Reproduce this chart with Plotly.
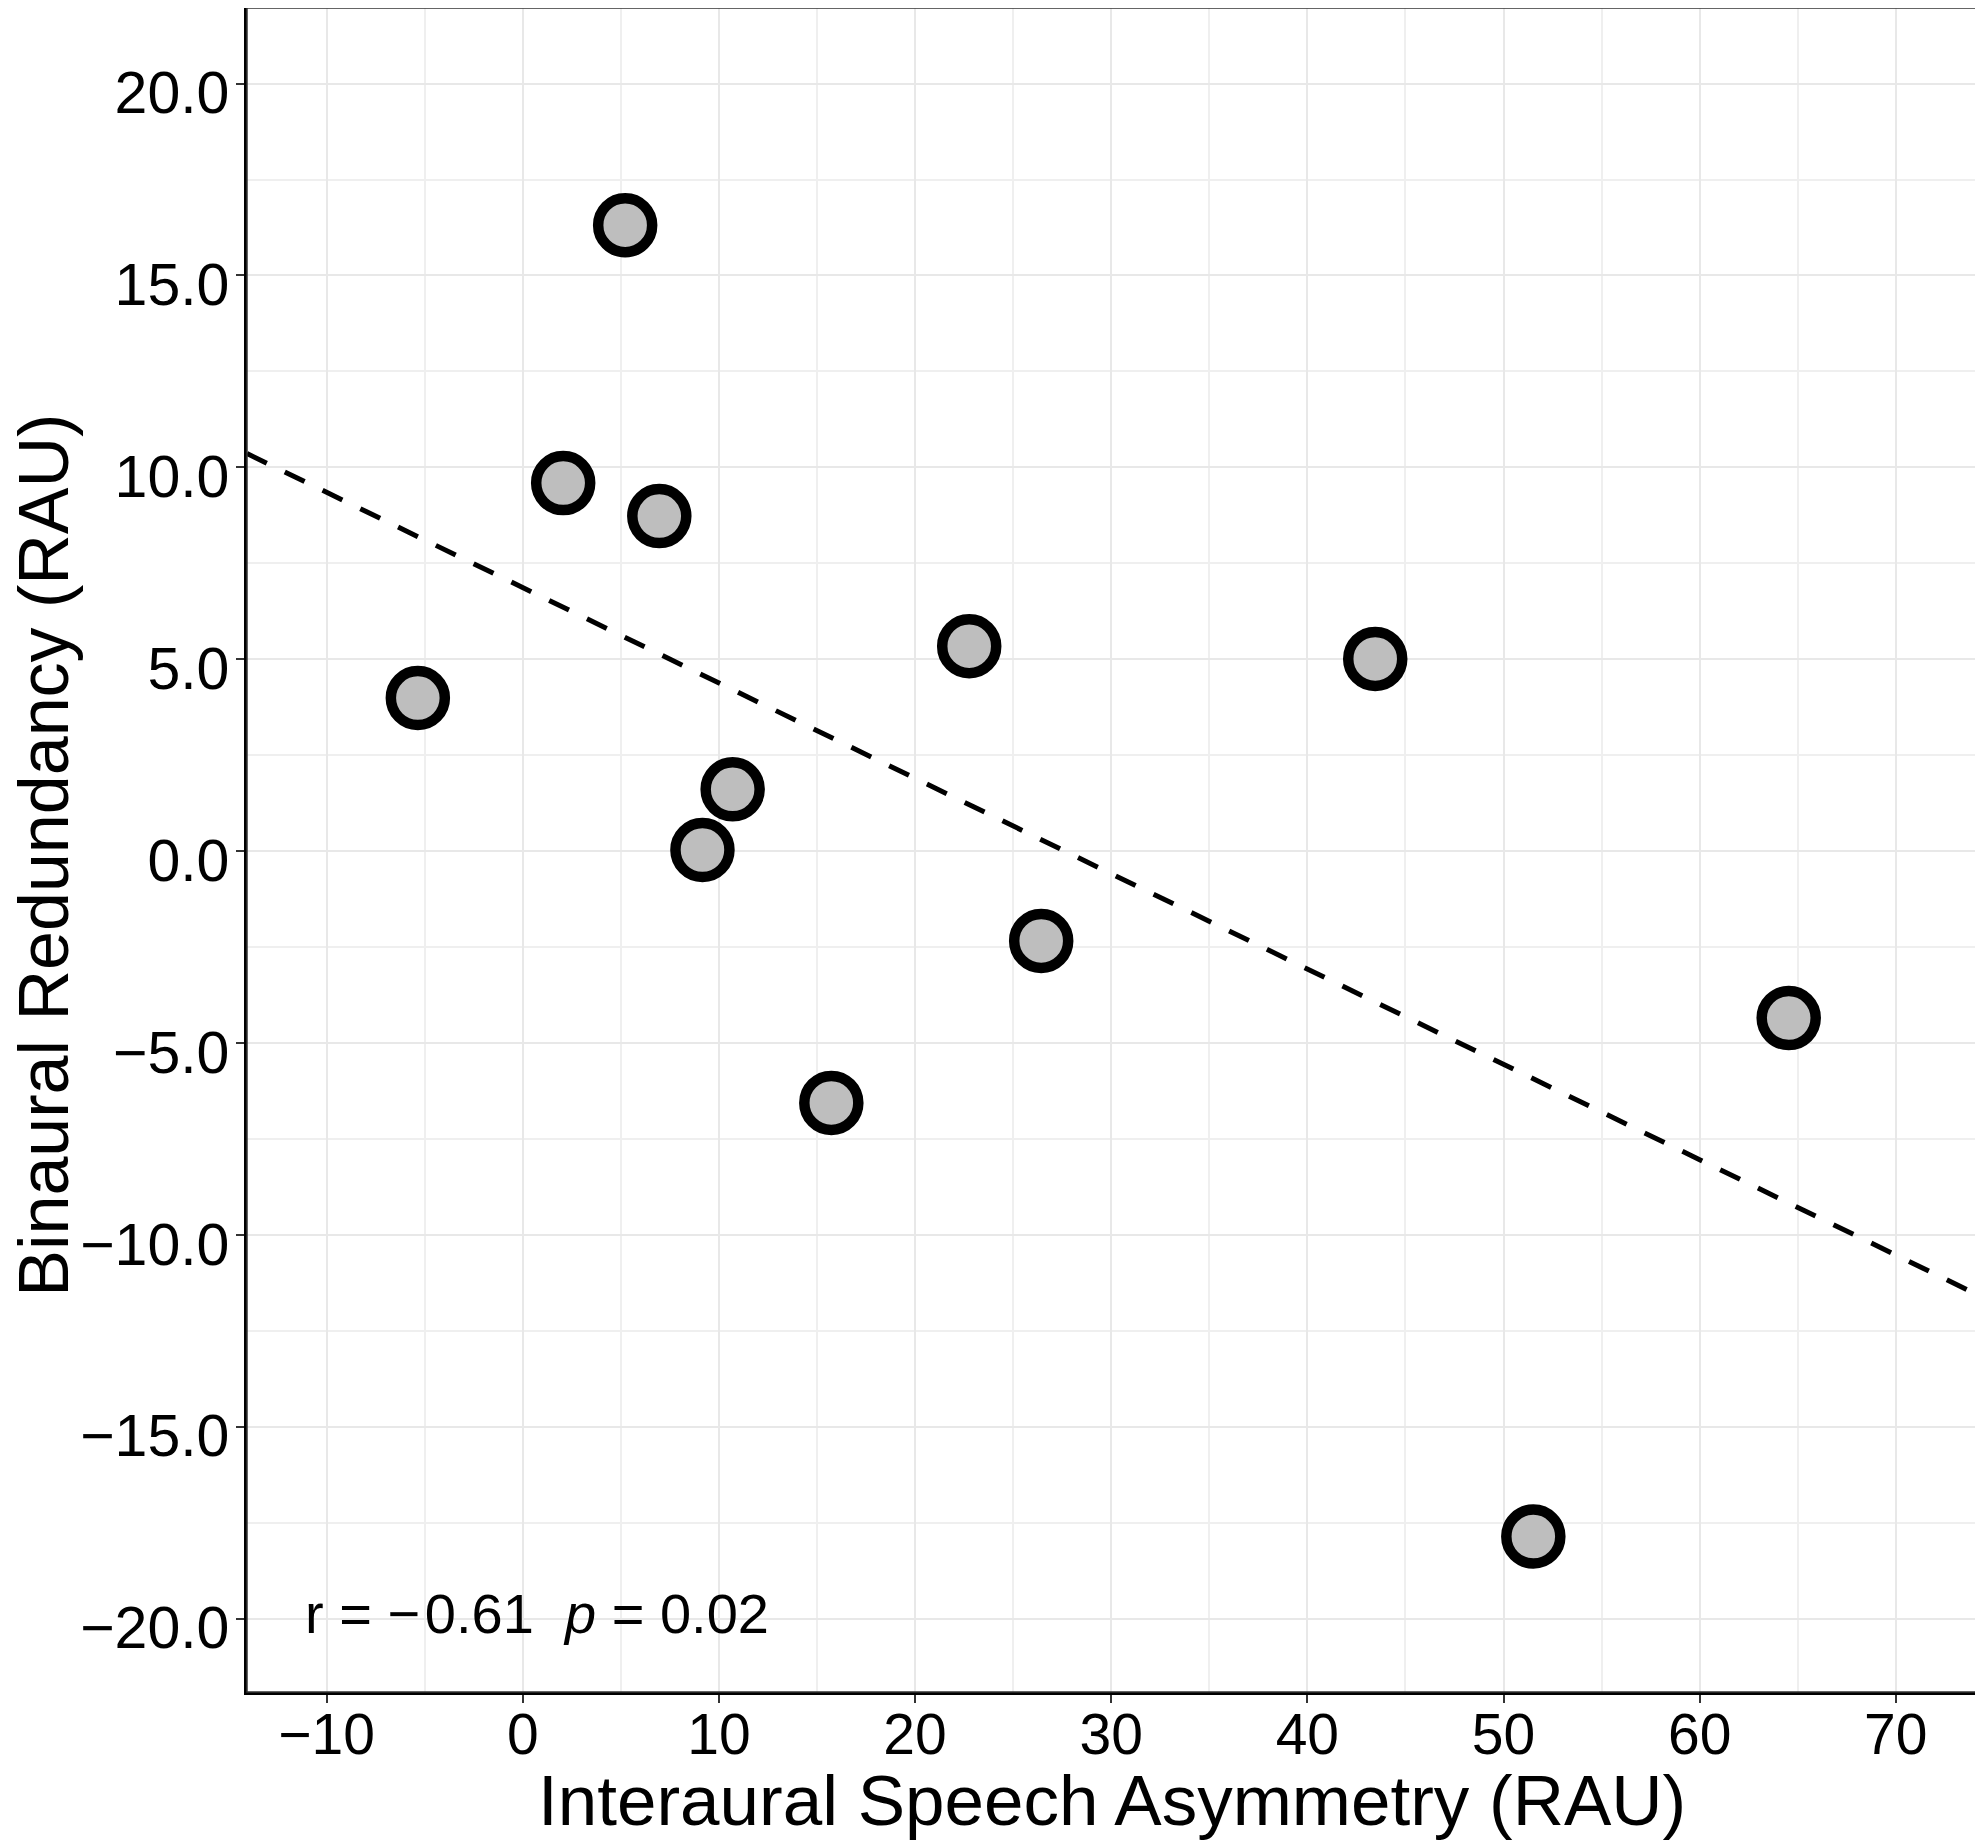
import numpy as np
import plotly.graph_objects as go

# Data
asymmetry = [5.22, 2.06, 6.96, -5.35, 22.76, 43.46, 10.70, 9.16, 26.43, 15.73, 64.54, 51.52]
redundancy = [16.31, 9.59, 8.73, 3.99, 5.34, 5.01, 1.61, 0.03, -2.34, -6.56, -4.35, -17.86]
x_ticks = [-10, 0, 10, 20, 30, 40, 50, 60, 70]
y_ticks = [-20, -15, -10, -5, 0, 5, 10, 15, 20]
x_range = [-14.06, 74.14]
y_range = [-21.91, 21.97]
stat_label = "r = \u2212\u200a0.61  <i>p</i> = 0.02"
x_title = "Interaural Speech Asymmetry (RAU)"
y_title = "Binaural Redundancy (RAU)"

FONT = "Liberation Sans, Arial, sans-serif"

# OLS regression line over the full x range
slope, intercept = np.polyfit(asymmetry, redundancy, 1)
line_x = np.array(x_range)
line_y = intercept + slope * line_x

fig = go.Figure()
fig.add_trace(go.Scatter(
    x=line_x, y=line_y, mode="lines",
    line=dict(color="black", width=5, dash="22px,20px"),
    hoverinfo="skip", showlegend=False,
))
fig.add_trace(go.Scatter(
    x=asymmetry, y=redundancy, mode="markers",
    marker=dict(size=54, color="#BEBEBE", line=dict(color="black", width=10.5)),
    showlegend=False, cliponaxis=False,
))

fig.add_annotation(
    x=-11.19, y=-19.87, xref="x", yref="y", text=stat_label, showarrow=False,
    xanchor="left", yanchor="middle",
    font=dict(family=FONT, size=56, color="black"),
)

# axis titles
fig.add_annotation(
    x=0.5, y=-0.0647, xref="paper", yref="paper", text=x_title, showarrow=False,
    xanchor="center", yanchor="middle",
    font=dict(family=FONT, size=71, color="black"),
)
fig.add_annotation(
    x=-0.1175, y=0.497, xref="paper", yref="paper", text=y_title, showarrow=False,
    xanchor="center", yanchor="middle", textangle=-90,
    font=dict(family=FONT, size=70, color="black"),
)

# panel border
fig.add_shape(type="rect", xref="paper", yref="paper", x0=0, y0=0, x1=1, y1=1,
              line=dict(color="#333333", width=1.5), layer="above")

axis_common = dict(
    showline=True, linecolor="black", linewidth=2.5,
    ticks="outside", ticklen=8, tickwidth=2, tickcolor="#333333",
    showgrid=True, gridcolor="#E8E8E8", gridwidth=2,
    zeroline=False,
)

fig.update_xaxes(
    range=x_range, tickmode="array", tickvals=x_ticks,
    tickfont=dict(family=FONT, size=57, color="black"),
    ticklabelstandoff=-17,
    minor=dict(tickmode="array", tickvals=[v + 5 for v in x_ticks[:-1]] + [-15, 75],
               showgrid=True, gridcolor="#EFEFEF", gridwidth=1.5, ticks=""),
    **axis_common,
)
fig.update_yaxes(
    range=y_range, tickmode="array", tickvals=y_ticks, tickformat=".1f",
    tickfont=dict(family=FONT, size=59, color="black"),
    ticklabelstandoff=-5, ticklabelshift=9,
    minor=dict(tickmode="array", tickvals=[v + 2.5 for v in y_ticks[:-1]] + [-22.5],
               showgrid=True, gridcolor="#EFEFEF", gridwidth=1.5, ticks=""),
    **axis_common,
)

fig.update_layout(
    width=1975, height=1835,
    margin=dict(l=239, r=6, t=0, b=151, pad=0),
    plot_bgcolor="white", paper_bgcolor="white",
    font=dict(family=FONT, color="black"),
)

fig.write_html("out.html")
